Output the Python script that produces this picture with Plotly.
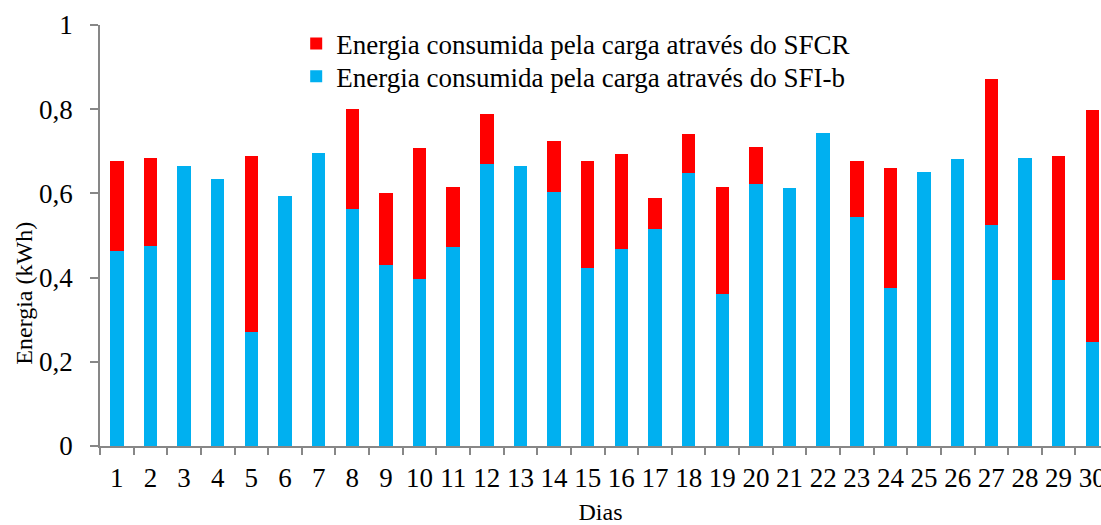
import plotly.graph_objects as go

# Days of the month
dias = [str(d) for d in range(1, 31)]

# Energy delivered to the load by the SFI-b system (kWh)
sfi_b = [0.464, 0.475, 0.666, 0.635, 0.270, 0.595, 0.697, 0.562, 0.431, 0.397,
         0.473, 0.671, 0.666, 0.604, 0.422, 0.468, 0.515, 0.648, 0.360, 0.622,
         0.612, 0.744, 0.544, 0.376, 0.652, 0.682, 0.526, 0.684, 0.395, 0.247]

# Energy delivered to the load by the SFCR system (kWh)
sfcr = [0.212, 0.208, 0.000, 0.000, 0.419, 0.000, 0.000, 0.239, 0.170, 0.310,
        0.143, 0.117, 0.000, 0.121, 0.254, 0.225, 0.073, 0.092, 0.256, 0.089,
        0.000, 0.000, 0.134, 0.284, 0.000, 0.000, 0.345, 0.000, 0.293, 0.552]

y_ticks = [0, 0.2, 0.4, 0.6, 0.8, 1]

FONT = "Times New Roman, Liberation Serif, serif"
AXIS_GREY = "#878787"
LEGEND_FONT = dict(family=FONT, size=27)

fig = go.Figure()
fig.add_trace(go.Bar(
    x=dias, y=sfi_b, name="Energia consumida pela carga através do SFI-b",
    marker=dict(color="#00B0F0", line=dict(width=0)), width=0.4,
    legend="legend2",
))
fig.add_trace(go.Bar(
    x=dias, y=sfcr, name="Energia consumida pela carga através do SFCR",
    marker=dict(color="#FF0000", line=dict(width=0)), width=0.4,
    legend="legend",
))

# one legend box per series so the two rows sit at fixed heights
legend_common = dict(x=0.196, xanchor="left", yanchor="middle",
                     bgcolor="rgba(0,0,0,0)", font=LEGEND_FONT, itemwidth=30)

fig.update_layout(
    barmode="stack",
    width=1101, height=525,
    margin=dict(l=100, r=0, t=25, b=78.5),
    paper_bgcolor="white", plot_bgcolor="white",
    separators=", ",
    font=dict(family=FONT, size=27, color="black"),
    showlegend=True,
    legend=dict(y=0.955, **legend_common),
    legend2=dict(y=0.877, **legend_common),
    xaxis=dict(
        type="category",
        range=[-0.5, 29.26],
        automargin=False,
        showline=True, linecolor=AXIS_GREY, linewidth=1.5,
        ticks="outside", tickson="boundaries", ticklen=7,
        tickcolor=AXIS_GREY, tickwidth=1.5,
        tickangle=0,
        ticklabelstandoff=7,
        tickfont=dict(family=FONT, size=27),
        showgrid=False, zeroline=False,
        title=dict(text="Dias", font=dict(family=FONT, size=24), standoff=12),
    ),
    yaxis=dict(
        range=[0, 1],
        tickvals=y_ticks,
        automargin=False,
        showline=True, linecolor=AXIS_GREY, linewidth=1.5,
        ticks="outside", ticklen=8, tickcolor=AXIS_GREY, tickwidth=1.5,
        ticklabelstandoff=12,
        tickfont=dict(family=FONT, size=27),
        showgrid=False, zeroline=False,
    ),
    # vertical axis title, placed a little below the axis midpoint
    annotations=[dict(
        text="Energia (kWh)", textangle=-90,
        xref="paper", yref="paper", x=-0.076, y=0.364,
        xanchor="center", yanchor="middle", showarrow=False,
        font=dict(family=FONT, size=24),
    )],
)

fig.write_html("out.html")
